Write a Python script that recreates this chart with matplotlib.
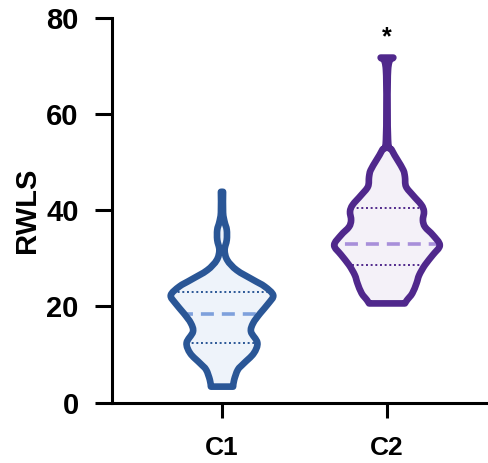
import numpy as np
import matplotlib
matplotlib.use("Agg")
import matplotlib.pyplot as plt
from matplotlib.path import Path
from matplotlib.patches import PathPatch

plt.rcParams['font.family'] = ['Liberation Sans', 'DejaVu Sans']
plt.rcParams['font.weight'] = 'bold'

# ---- data -------------------------------------------------------------
categories = ["C1", "C2"]

# violin profiles: value levels and relative density (half-width) at each level
c1_levels = [3.3, 4.7, 6.8, 8.1, 10.2, 12.4, 14.7, 16.5, 18.5, 20.6, 22.3,
             24.1, 25.5, 27.5, 29.6, 31.7, 33.8, 35.9, 37.5, 39.5, 43.8]
c1_density = [0.21, 0.23, 0.30, 0.41, 0.60, 0.67, 0.55, 0.59, 0.72, 0.88, 0.97,
              0.81, 0.59, 0.28, 0.10, 0.05, 0.09, 0.09, 0.05, 0.02, 0.02]

c2_levels = [20.6, 21.3, 22.7, 24.8, 26.5, 28.6, 30.7, 32.7, 34.8, 36.5, 37.9,
             39.7, 41.1, 43.1, 44.9, 46.9, 48.3, 50.4, 52.5, 54.6, 69.2, 71.7]
c2_density = [0.34, 0.38, 0.48, 0.56, 0.61, 0.72, 0.87, 1.00, 0.87, 0.72, 0.68,
              0.70, 0.65, 0.49, 0.36, 0.34, 0.31, 0.20, 0.09, 0.02, 0.02, 0.12]

medians = [18.5, 33.0]
q1 = [12.3, 28.5]
q3 = [22.9, 40.5]

significance = ["", "*"]
sig_y = [None, 76.0]

yticks = [0, 20, 40, 60, 80]
ylabel = "RWLS"

# ---- style ------------------------------------------------------------
edge_colors = ["#2a5696", "#50288c"]
fill_colors = ["#eef3fa", "#f4f1f8"]
median_colors = ["#7ea0dc", "#a88fda"]
max_half_width = 0.32

fig = plt.figure(figsize=(4.88, 4.63), dpi=100)
ax = fig.add_axes([112 / 488, 60.5 / 463, 376 / 488, 384.8 / 463])


def catmull_rom(points):
    """Bezier (CURVE4) vertices running smoothly through the given points."""
    pts = np.asarray(points, dtype=float)
    ext = np.vstack([pts[0], pts, pts[-1]])
    verts, codes = [], []
    for i in range(1, len(ext) - 2):
        p0, p1, p2, p3 = ext[i - 1], ext[i], ext[i + 1], ext[i + 2]
        c1 = p1 + (p2 - p0) / 6.0
        c2 = p2 - (p3 - p1) / 6.0
        verts += [c1, c2, p2]
        codes += [Path.CURVE4] * 3
    return verts, codes


def violin_path(center, levels, density):
    hw = np.asarray(density) * max_half_width
    lv = np.asarray(levels)
    right = list(zip(center + hw, lv))
    left = list(zip(center - hw[::-1], lv[::-1]))
    verts = [right[0]]
    codes = [Path.MOVETO]
    v, c = catmull_rom(right)
    verts += v
    codes += c
    verts.append(left[0])
    codes.append(Path.LINETO)
    v, c = catmull_rom(left)
    verts += v
    codes += c
    verts.append(right[0])
    codes.append(Path.CLOSEPOLY)
    return Path(verts, codes)


profiles = [(c1_levels, c1_density), (c2_levels, c2_density)]
positions = np.arange(1, len(categories) + 1)

for i, (pos, (lv, dens)) in enumerate(zip(positions, profiles)):
    path = violin_path(pos, lv, dens)
    body = PathPatch(path, facecolor=fill_colors[i], edgecolor="none", zorder=2)
    ax.add_patch(body)

    span = [pos - max_half_width * 1.2, pos + max_half_width * 1.2]
    for q in (q1[i], q3[i]):
        ln, = ax.plot(span, [q, q], color=edge_colors[i], lw=1.4,
                      linestyle=(0, (1, 1.4)), zorder=3)
        ln.set_clip_path(body)
    ln, = ax.plot(span, [medians[i], medians[i]], color=median_colors[i], lw=2.6,
                  linestyle=(0, (3.6, 2.2)), zorder=3)
    ln.set_clip_path(body)

    outline = PathPatch(path, facecolor="none", edgecolor=edge_colors[i],
                        lw=4.8, joinstyle="round", zorder=4)
    ax.add_patch(outline)

    if significance[i]:
        ax.text(pos, sig_y[i], significance[i], ha="center", va="center",
                fontsize=18, fontweight="bold", color="black")

ax.set_xlim(1 - 110 / 165, 2 + 101 / 165)
ax.set_ylim(0, 80)
ax.set_yticks(yticks)
ax.set_yticklabels([str(t) for t in yticks])
ax.set_xticks(positions)
ax.set_xticklabels(categories)

for side in ("top", "right"):
    ax.spines[side].set_visible(False)
for side in ("left", "bottom"):
    ax.spines[side].set_linewidth(2.2)
    ax.spines[side].set_color("black")
ax.spines["left"].set_capstyle("projecting")

ax.tick_params(axis="y", length=11.9, width=2.2, pad=12, labelsize=21)
ax.tick_params(axis="x", length=11, width=2.2, pad=13, labelsize=19)
for lab in ax.get_xticklabels() + ax.get_yticklabels():
    lab.set_fontweight("bold")

fig.text(27 / 488, 1 - 210 / 463, ylabel, rotation=90, ha="center", va="center",
         fontsize=21, fontweight="bold")

fig.savefig("out.png", dpi=100)
